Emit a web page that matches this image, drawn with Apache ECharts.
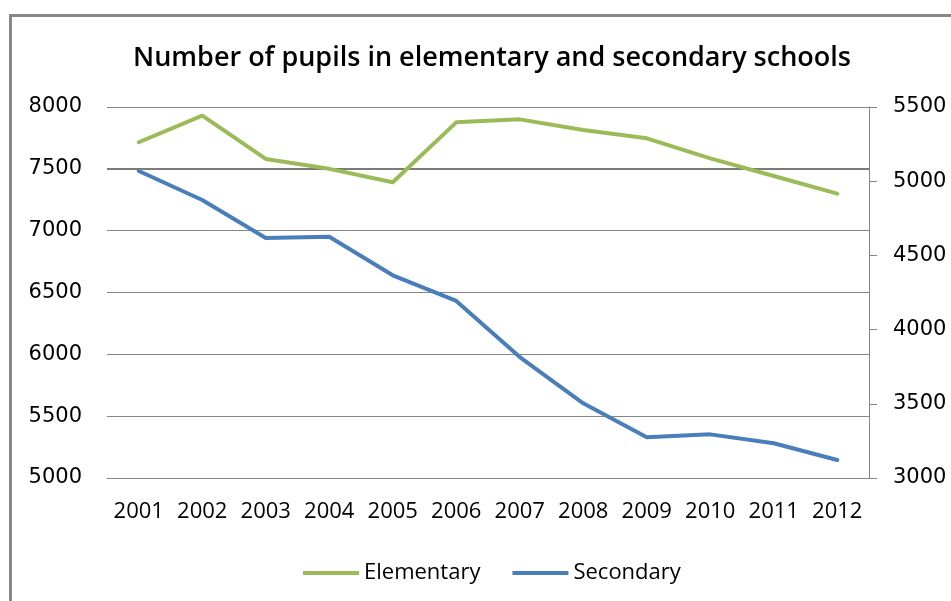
<!DOCTYPE html>
<html>
<head>
<meta charset="utf-8">
<script src="https://cdn.jsdelivr.net/npm/echarts@6/dist/echarts.min.js"></script>
<style>
  html, body { margin: 0; padding: 0; background: #fff; }
  #chart { width: 951px; height: 601px; }
</style>
</head>
<body>
<div id="chart"></div>
<script>
// values
const years = ['2001', '2002', '2003', '2004', '2005', '2006', '2007', '2008', '2009', '2010', '2011', '2012']
const elementary = [7715, 7930, 7580, 7500, 7391, 7876, 7900, 7814, 7747, 7585, 7442, 7299]
const secondary = [5069, 4873, 4617, 4626, 4366, 4193, 3815, 3503, 3274, 3294, 3234, 3121]
const leftTicks = { min: 5000, max: 8000, interval: 500 }
const rightTicks = { min: 3000, max: 5500, interval: 500 }

const GREEN = '#9bbb59'
const BLUE = '#4a7ebb'
const GRID = '#868686'

const chart = echarts.init(document.getElementById('chart'))

const plain = (v) => String(v)

const option = {
  animation: false,
  backgroundColor: '#fff',
  title: {
    text: 'Number of pupils in elementary and secondary schools',
    left: 487,
    top: 40,
    textAlign: 'center',
    textStyle: {
      fontFamily: 'Open Sans',
      fontSize: 27,
      fontWeight: 600,
      color: '#000',
    },
  },
  graphic: [
    {
      // outer chart border, cut off at the right and bottom
      type: 'rect',
      silent: true,
      shape: { x: 10.5, y: 15.5, width: 960, height: 600 },
      style: { fill: 'none', stroke: '#878787', lineWidth: 3 },
    },
  ],
  legend: {
    left: 298,
    top: 557,
    itemWidth: 56,
    itemHeight: 4,
    itemGap: 32,
    icon: 'rect',
    textStyle: { fontFamily: 'Open Sans', fontSize: 22, color: '#000' },
    data: ['Elementary', 'Secondary'],
  },
  grid: {
    left: 107,
    right: 82,
    top: 107,
    bottom: 123,
  },
  xAxis: {
    type: 'category',
    data: years,
    boundaryGap: true,
    axisLine: { lineStyle: { color: GRID, width: 1 } },
    axisTick: { show: false },
    axisLabel: {
      interval: 0,
      margin: 23,
      color: '#000',
      fontFamily: 'Open Sans',
      fontSize: 22,
    },
  },
  yAxis: [
    {
      type: 'value',
      min: leftTicks.min,
      max: leftTicks.max,
      interval: leftTicks.interval,
      axisLine: { show: false },
      axisTick: { show: false },
      axisLabel: {
        margin: 25,
        color: '#000',
        fontFamily: 'DejaVu Sans',
        fontSize: 21,
        formatter: plain,
      },
      splitLine: { lineStyle: { color: GRID, width: 1 } },
    },
    {
      type: 'value',
      position: 'right',
      min: rightTicks.min,
      max: rightTicks.max,
      interval: rightTicks.interval,
      axisLine: { show: true, lineStyle: { color: GRID, width: 1 } },
      axisTick: { show: true, length: 8, lineStyle: { color: GRID } },
      axisLabel: {
        margin: 24,
        color: '#000',
        fontFamily: 'DejaVu Sans',
        fontSize: 21,
        formatter: plain,
      },
      splitLine: { show: false },
    },
  ],
  series: [
    {
      name: 'Elementary',
      type: 'line',
      yAxisIndex: 0,
      data: elementary,
      symbol: 'none',
      color: GREEN,
      lineStyle: { color: GREEN, width: 4, join: 'round', cap: 'round' },
      z: 3,
      markLine: {
        silent: true,
        symbol: 'none',
        label: { show: false },
        lineStyle: { color: '#7a7a7a', width: 2, type: 'solid' },
        data: [{ yAxis: 7500 }],
        z: 1,
      },
    },
    {
      name: 'Secondary',
      type: 'line',
      yAxisIndex: 1,
      data: secondary,
      symbol: 'none',
      color: BLUE,
      lineStyle: { color: BLUE, width: 4, join: 'round', cap: 'round' },
      z: 3,
    },
  ],
}

chart.setOption(option)
</script>
</body>
</html>
